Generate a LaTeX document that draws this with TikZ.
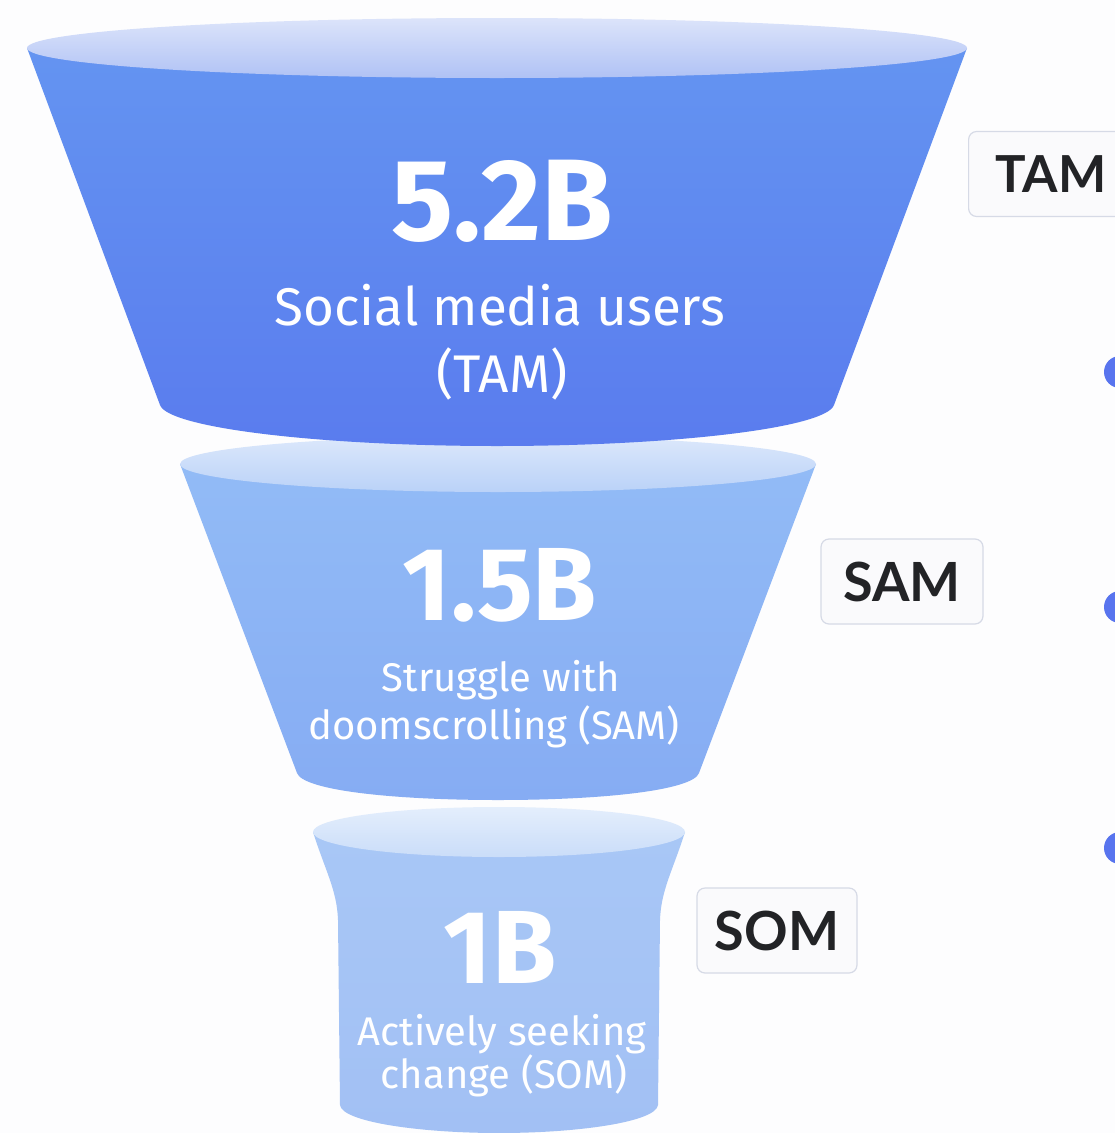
\documentclass[tikz,border=0pt]{standalone}
\usepackage{fontspec}
\setmainfont{Fira Sans}
\newfontfamily\lblfont{Lato}
\definecolor{bg}{HTML}{FDFDFE}
\definecolor{fa}{HTML}{6494F1}
\definecolor{fb}{HTML}{5A7CEE}
\definecolor{ea}{HTML}{DCE4FA}
\definecolor{eb}{HTML}{B0C2F5}
\definecolor{sa}{HTML}{92BBF6}
\definecolor{sb}{HTML}{86ACF3}
\definecolor{ta}{HTML}{DCE8FB}
\definecolor{tb}{HTML}{BAD2F8}
\definecolor{ua}{HTML}{A8C7F6}
\definecolor{ub}{HTML}{A2C0F4}
\definecolor{va}{HTML}{E4EEFC}
\definecolor{vb}{HTML}{CADDF9}
\definecolor{dotc}{HTML}{5874EE}
\definecolor{lbltext}{HTML}{222326}
\definecolor{lblline}{HTML}{D6DAE6}
\definecolor{lblfill}{HTML}{FAFAFC}
\begin{document}
\begin{tikzpicture}[x=1pt,y=-1pt,
  bignum/.style={text=white,font=\fontsize{116}{116}\selectfont\bfseries,inner sep=0pt,anchor=base},
  midnum/.style={text=white,font=\fontsize{104}{104}\selectfont\bfseries,inner sep=0pt,anchor=base},
  captxt/.style={text=white,font=\fontsize{53}{53}\selectfont,inner sep=0pt,anchor=base},
  smalltxt/.style={text=white,font=\fontsize{40}{40}\selectfont,inner sep=0pt,anchor=base},
  lbl/.style={draw=lblline,line width=1.2pt,fill=lblfill,rounded corners=8pt,
    text=lbltext,font=\lblfont\fontsize{54}{54}\selectfont\bfseries,minimum height=85pt,inner xsep=0pt,inner ysep=0pt},
  dotsty/.style={fill=dotc}]
\useasboundingbox (0,0) rectangle (1115,1133);
\clip (0,0) rectangle (1115,1133);
\fill[bg] (0,0) rectangle (1115,1133);

% third funnel (SOM)
\shade[top color=ua,bottom color=ub]
  (313,832) .. controls (325,870) and (337,890) .. (338,920) -- (340,1105)
  .. controls (342,1122) and (420,1133) .. (499,1133)
  .. controls (578,1133) and (656,1122) .. (658,1105) -- (660,920)
  .. controls (661,890) and (673,870) .. (685,832) -- cycle;
\shade[top color=va,bottom color=vb] (499,832) ellipse [x radius=186,y radius=25];

% second funnel (SAM)
\shade[top color=sa,bottom color=sb]
  (180,464) -- (297,773) .. controls (303,790) and (390,800) .. (498,800)
  .. controls (606,800) and (693,790) .. (699,773) -- (816,464) -- cycle;
\shade[top color=ta,bottom color=tb] (498,464) ellipse [x radius=318,y radius=28];

% top funnel (TAM)
\shade[top color=fa,bottom color=fb]
  (27,48) -- (160,405) .. controls (168,428) and (320,446) .. (497,446)
  .. controls (674,446) and (826,428) .. (834,405) -- (967,48) -- cycle;
\shade[top color=ea,bottom color=eb] (497,48) ellipse [x radius=470,y radius=30];

% texts
\node[bignum] (tamnum) at (502,240) {5.2B};
\node[captxt] (tamt1) at (500,325) {Social media users};
\node[captxt] (tamt2) at (502,392) {(TAM)};

\node[midnum] (samnum) at (500,620) {1.5B};
\node[smalltxt] (samt1) at (501,691) {Struggle with};
\node[smalltxt] (samt2) at (494,739) {doomscrolling (SAM)};

\node[midnum] (somnum) at (500,983) {1B};
\node[smalltxt] (somt1) at (502,1045) {Actively seeking};
\node[smalltxt] (somt2) at (504,1088) {change (SOM)};

% labels
\node[lbl,anchor=west,minimum width=170pt,text width=150pt,align=left] (tamlbl) at (968,174) {\hspace*{17pt}\fontsize{51}{51}\selectfont TAM};
\node[lbl,minimum width=162pt] (samlbl) at (902,581.5) {SAM};
\node[lbl,minimum width=160pt] (somlbl) at (777,930.5) {SOM};

% dots
\fill[dotsty] (1120,372) circle[radius=16];
\fill[dotsty] (1120,607) circle[radius=16];
\fill[dotsty] (1120,848) circle[radius=16];
\end{tikzpicture}
\end{document}
